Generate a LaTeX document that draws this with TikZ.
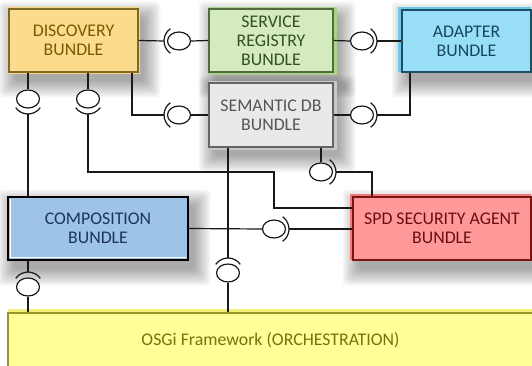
\documentclass[tikz,border=0pt]{standalone}
\usepackage{fontspec}
\setmainfont{Carlito}
\usetikzlibrary{shapes.geometric,calc}

\definecolor{discfill}{RGB}{252,220,140}
\definecolor{discline}{RGB}{125,105,40}
\definecolor{dischalo}{RGB}{250,212,120}
\definecolor{disctext}{RGB}{120,90,0}
\definecolor{regfill}{RGB}{214,234,192}
\definecolor{regline}{RGB}{80,108,58}
\definecolor{reghalo}{RGB}{172,210,140}
\definecolor{regtext}{RGB}{50,80,30}
\definecolor{adfill}{RGB}{152,222,246}
\definecolor{adline}{RGB}{30,78,100}
\definecolor{adhalo}{RGB}{110,200,232}
\definecolor{adtext}{RGB}{25,70,95}
\definecolor{semfill}{RGB}{233,233,233}
\definecolor{semline}{RGB}{100,100,100}
\definecolor{semhalo}{RGB}{200,200,200}
\definecolor{semtext}{RGB}{85,85,85}
\definecolor{compfill}{RGB}{157,196,230}
\definecolor{comptext}{RGB}{28,52,95}
\definecolor{spdfill}{RGB}{255,153,153}
\definecolor{spdline}{RGB}{125,20,20}
\definecolor{spdhalo}{RGB}{245,120,120}
\definecolor{spdtext}{RGB}{105,15,15}
\definecolor{osgifill}{RGB}{255,255,153}
\definecolor{osgiline}{RGB}{150,150,40}
\definecolor{osgihalo}{RGB}{240,240,120}
\definecolor{osgitext}{RGB}{115,115,15}
\definecolor{wire}{RGB}{25,25,25}

\tikzset{
  bundle/.style={rectangle, align=center, inner sep=0pt, line width=1.1pt,
    font=\fontsize{17.8}{19}\selectfont},
  conn/.style={draw=wire, line width=1.2pt},
  ball/.style={ellipse, draw=wire, fill=white, line width=1.2pt,
    minimum width=23pt, minimum height=18pt, inner sep=0pt},
}

% soft shadow below and right of a box
\newcommand\softshade[4]{%
  \foreach \i in {0,...,11}{%
    \fill[black, opacity=0.032, rounded corners=4pt]
      (#1+6-1.5*\i, #2+9-1.5*\i) rectangle (#3+6+1.5*\i, #4+9+1.5*\i);
  }%
}

% ball-and-socket interface: ball node, socket arc, socket end point (<name>s)
\newcommand\iface[4]{%
  \node[ball] (#1) at (#2,#3) {};
  \coordinate (#1s) at ($(#1.center)+(#4:15)$);
  \draw[conn] ($(#1.center)+(#4-55:15)$) arc[start angle=#4-55, end angle=#4+55, radius=15];
}

\begin{document}
\begin{tikzpicture}[x=1pt, y=-1pt]
\useasboundingbox (0,0) rectangle (532,366);
\fill[white] (0,0) rectangle (532,366);

% shadows
\softshade{9}{9}{138}{72}
\softshade{209}{9}{333}{72}
\softshade{402}{10}{531}{72}
\softshade{209}{83}{333}{147}
\softshade{8}{197}{188}{260}
\softshade{353}{197}{531}{260}

% halos
\fill[dischalo] (7,7) rectangle (140,74);
\fill[reghalo] (209,7) rectangle (337,75);
\fill[adhalo] (398,7) rectangle (531,72);
\fill[semhalo] (209,81) rectangle (337,150);
\fill[spdhalo] (350,194) rectangle (531,260);
\fill[osgihalo] (8,309) rectangle (532,313);

% bundles
\node[bundle, draw=discline, fill=discfill, text=disctext,
  minimum width=129pt, minimum height=63pt] (disc) at (73.5,40.5) {DISCOVERY\\BUNDLE};
\node[bundle, draw=regline, fill=regfill, text=regtext,
  minimum width=124pt, minimum height=63pt] (reg) at (271,40.5) {SERVICE\\REGISTRY\\BUNDLE};
\node[bundle, draw=adline, fill=adfill, text=adtext,
  minimum width=129pt, minimum height=62pt] (adapt) at (466.5,41) {ADAPTER\\BUNDLE};
\node[bundle, draw=semline, fill=semfill, text=semtext,
  minimum width=124pt, minimum height=64pt] (sem) at (271,115) {SEMANTIC DB\\BUNDLE};
\node[bundle, draw=black, fill=compfill, text=comptext,
  minimum width=180pt, minimum height=63pt] (comp) at (98,228.5) {COMPOSITION\\BUNDLE};
\draw[white, line width=1.2pt] (10.5,199) -- (10.5,257.5) -- (186,257.5);
\node[bundle, draw=spdline, fill=spdfill, text=spdtext,
  minimum width=178pt, minimum height=63pt] (spd) at (442,228.5) {SPD SECURITY AGENT\\BUNDLE};
\node[bundle, draw=osgiline, fill=osgifill, text=osgitext,
  minimum width=525pt, minimum height=54pt] (osgi) at (270.5,340) {OSGi Framework (ORCHESTRATION)};

% interfaces
\iface{i1}{179}{41}{180}
\iface{i2}{362}{41}{0}
\iface{i3}{28}{99}{90}
\iface{i4}{88}{99}{90}
\iface{i5}{179}{115}{180}
\iface{i6}{362}{115}{0}
\iface{i7}{321}{172}{0}
\iface{i8}{274}{229}{0}
\iface{i9}{228}{273}{270}
\iface{i10}{28}{287}{270}

% connectors
\draw[conn] (disc.east) -- (i1s);
\draw[conn] (i1.east) -- (reg.west);
\draw[conn] (reg.east) -- (i2.west);
\draw[conn] (i2s) -- (adapt.west);
\draw[conn] (disc.south -| i3) -- (i3.north);
\draw[conn] (i3s) -- (comp.north -| i3s);
\draw[conn] (disc.south -| i4) -- (i4.north);
\draw[conn] (i4s) |- (274,172) |- (spd.west |- 0,208);
\draw[conn] (disc.south -| 132,0) |- (i5s);
\draw[conn] (i5.east) -- (sem.west);
\draw[conn] (sem.east) -- (i6.west);
\draw[conn] (i6s) -| (adapt.south -| 410,0);
\draw[conn] (sem.south -| i7) -- (i7.north);
\draw[conn] (i7s) -| (spd.north -| 372,0);
\draw[conn] (comp.east) -- (i8.west);
\draw[conn] (i8s) -- (spd.west |- i8s);
\draw[conn] (sem.south -| i9s) -- (i9s);
\draw[conn] (i9.south) -- (osgi.north -| i9);
\draw[conn] (comp.south -| i10s) -- (i10s);
\draw[conn] (i10.south) -- (osgi.north -| i10);
\end{tikzpicture}
\end{document}
